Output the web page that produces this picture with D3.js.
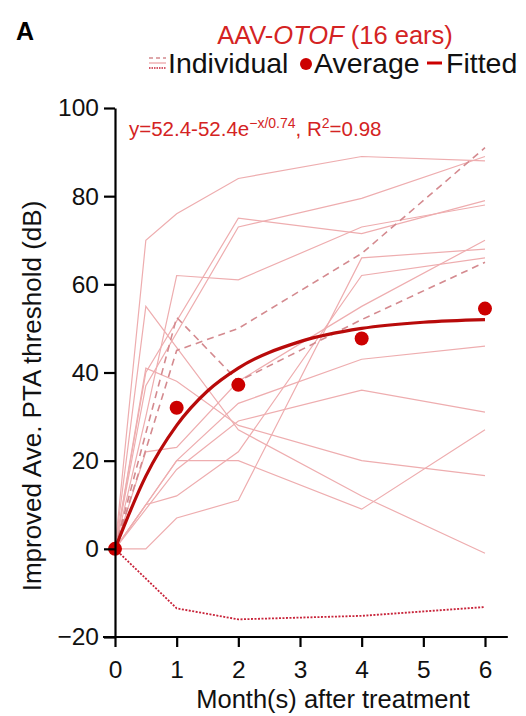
<!DOCTYPE html>
<html><head><meta charset="utf-8">
<script src="https://cdn.jsdelivr.net/npm/d3@7"></script>
<style>
body{margin:0;background:#fff;}
svg{display:block;font-family:"Liberation Sans",Arial,sans-serif;}
</style></head>
<body><svg id="c" width="526" height="716"></svg>
<script>
// ---- data ----
const months = [0, 0.5, 1, 2, 4, 6];
const earA = [0, 70, 76, 84, 89, 88];
const earB = [0, 37, null, 73, 79.5, 89];
const earC = [0, 40, null, 75, 71.5, 79];
const earD = [0, 30, 62, 61, 73, 78];
const earE = [0, 22, 23, 38, 55, 70];
const earF = [0, 0, 7, 11, 66, 68];
const earG = [0, 10, 12, 22, 62, 66];
const earH = [0, null, 20, 33, 43, 46];
const earI = [0, null, 18, 29, 36, 31];
const earJ = [0, 10, 20, 20, 9, 27];
const earK = [0, 41, 38, 28, 20, 16.6];
const earL = [0, 55, null, 27, 12, -1];
const earDash1 = [0, null, 45, 50, 67, 91];
const earDash2 = [0, null, 52.5, 38, 52, 65];
const earDot = [0, null, -13.5, -16, -15.2, -13.2];
const solidEars = [earA, earB, earC, earD, earE, earF, earG, earH, earI, earJ, earK, earL];
const dashedEars = [earDash1, earDash2];
const dottedEars = [earDot];

const avgMonths = [0, 1, 2, 4, 6];
const avgValues = [0, 32, 37.2, 47.7, 54.5];

const fitMonths = [0, 0.5, 1, 1.5, 2, 3, 4, 5, 6];
const fitValues = [0, 16.5, 28, 35.8, 41, 47, 50, 51.4, 52];

const xTicks = [0, 1, 2, 3, 4, 5, 6];
const yTicks = [-20, 0, 20, 40, 60, 80, 100];

// ---- drawing ----
const svg = d3.select("#c");
const x = d3.scaleLinear().domain([0, 6]).range([115, 485]);
const y = d3.scaleLinear().domain([-20, 100]).range([637, 108]);

const pts = vals => months.map((m, i) => [m, vals[i]]).filter(d => d[1] !== null);
const line = d3.line().x(d => x(d[0])).y(d => y(d[1]));

const pink = "#eeadaf", dashPink = "#d48a8f";

svg.append("g").selectAll("path").data(solidEars).join("path")
  .attr("d", v => line(pts(v))).attr("fill", "none")
  .attr("stroke", pink).attr("stroke-width", 1.2);
svg.append("g").selectAll("path").data(dashedEars).join("path")
  .attr("d", v => line(pts(v))).attr("fill", "none")
  .attr("stroke", dashPink).attr("stroke-width", 1.6).attr("stroke-dasharray", "7,5");
svg.append("g").selectAll("path").data(dottedEars).join("path")
  .attr("d", v => line(pts(v))).attr("fill", "none")
  .attr("stroke", "#c8243a").attr("stroke-width", 1.8).attr("stroke-dasharray", "2,1.5");

const fitLine = d3.line().x((d, i) => x(fitMonths[i])).y(d => y(d)).curve(d3.curveMonotoneX);
svg.append("path").attr("d", fitLine(fitValues)).attr("fill", "none")
  .attr("stroke", "#b80a0a").attr("stroke-width", 3.2);

svg.append("g").selectAll("circle").data(avgValues).join("circle")
  .attr("cx", (d, i) => x(avgMonths[i])).attr("cy", d => y(d)).attr("r", 7)
  .attr("fill", "#cc0000");

// axes
const yAxis = svg.append("g").attr("transform", `translate(${x(0)},0)`)
  .call(d3.axisLeft(y).tickValues(yTicks).tickSize(11).tickSizeOuter(0).tickPadding(5));
const xAxis = svg.append("g").attr("transform", `translate(0,${y(-20)})`)
  .call(d3.axisBottom(x).tickValues(xTicks).tickFormat(d3.format("d")).tickSize(10).tickSizeOuter(0).tickPadding(14));
[yAxis, xAxis].forEach(a => {
  a.selectAll("path,line").attr("stroke", "#000").attr("stroke-width", 2.2);
  a.selectAll("text").attr("font-size", 24.5).attr("fill", "#111")
    .attr("font-family", "Liberation Sans, Arial, sans-serif");
});
xAxis.select(".domain").remove();
svg.append("line").attr("x1", x(0) - 12).attr("x2", x(6.37))
  .attr("y1", y(-20)).attr("y2", y(-20)).attr("stroke", "#000").attr("stroke-width", 2.2);

// titles
svg.append("text").attr("x", 333).attr("y", 708).attr("text-anchor", "middle")
  .attr("font-size", 25.5).attr("fill", "#111").text("Month(s) after treatment");
svg.append("text").attr("transform", "translate(41,396) rotate(-90)").attr("text-anchor", "middle")
  .attr("font-size", 26).attr("fill", "#111").text("Improved Ave. PTA threshold (dB)");

svg.append("text").attr("x", 16).attr("y", 40).attr("font-size", 25).attr("font-weight", "bold")
  .attr("fill", "#000").text("A");

const title = svg.append("text").attr("x", 335).attr("y", 44).attr("text-anchor", "middle")
  .attr("font-size", 25.5).attr("fill", "#d42323");
title.append("tspan").text("AAV-");
title.append("tspan").attr("font-style", "italic").text("OTOF");
title.append("tspan").text(" (16 ears)");

// legend
const lg = svg.append("g");
lg.append("line").attr("x1", 149).attr("x2", 166).attr("y1", 58).attr("y2", 58)
  .attr("stroke", dashPink).attr("stroke-width", 1.4).attr("stroke-dasharray", "4,3");
lg.append("line").attr("x1", 149).attr("x2", 166).attr("y1", 63).attr("y2", 63)
  .attr("stroke", pink).attr("stroke-width", 1.4);
lg.append("line").attr("x1", 149).attr("x2", 166).attr("y1", 68).attr("y2", 68)
  .attr("stroke", "#c8243a").attr("stroke-width", 1.6).attr("stroke-dasharray", "1.5,1");
lg.append("text").attr("x", 168).attr("y", 73).attr("font-size", 28.5).attr("fill", "#111").text("Individual");
lg.append("circle").attr("cx", 306).attr("cy", 64).attr("r", 6).attr("fill", "#cc0000");
lg.append("text").attr("x", 314).attr("y", 73).attr("font-size", 28.5).attr("fill", "#111").text("Average");
lg.append("line").attr("x1", 427).attr("x2", 442).attr("y1", 63).attr("y2", 63)
  .attr("stroke", "#cc0000").attr("stroke-width", 3);
lg.append("text").attr("x", 446).attr("y", 73).attr("font-size", 28.5).attr("fill", "#111").text("Fitted");

// formula
const f = svg.append("text").attr("x", 129).attr("y", 136).attr("font-size", 20.5).attr("fill", "#d42323");
f.append("tspan").text("y=52.4-52.4e");
f.append("tspan").attr("font-size", 14).attr("dy", -8).text("\u2212x/0.74");
f.append("tspan").attr("dy", 8).text(", R");
f.append("tspan").attr("font-size", 14).attr("dy", -8).text("2");
f.append("tspan").attr("dy", 8).text("=0.98");
</script></body></html>
